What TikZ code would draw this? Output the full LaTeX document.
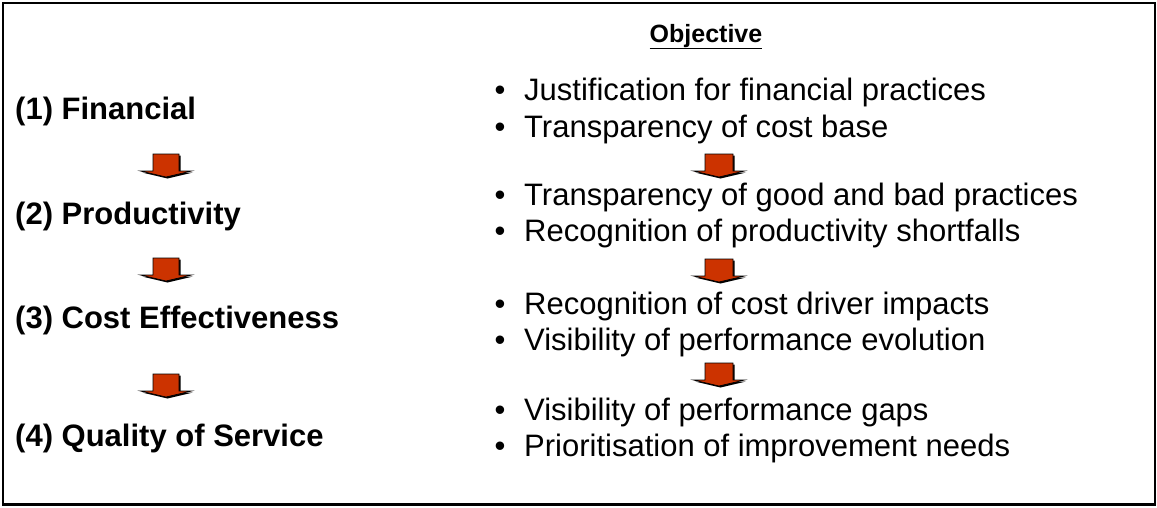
\documentclass[tikz,border=0pt]{standalone}
\usepackage{fontspec}
\setmainfont{Liberation Sans}
\definecolor{arrred}{RGB}{204,51,0}
\newcommand\dnarrow[4]{% center x, top y, body half width, name
  \path[fill=black] ({#1-#3+1.5},{#2+1.5}) -- ({#1+#3+1.5},{#2+1.5}) -- ({#1+#3+1.5},{#2+18.5}) -- ({#1+27},{#2+18.5}) -- ({#1+1.5},{#2+24.5}) -- ({#1-24},{#2+18.5}) -- ({#1-#3+1.5},{#2+18.5}) -- cycle;
  \path[blockarrow] ({#1-#3},#2) coordinate (#4) -- ({#1+#3},#2) -- ({#1+#3},{#2+17}) -- ({#1+25.5},{#2+17}) -- (#1,{#2+23}) -- ({#1-25.5},{#2+17}) -- ({#1-#3},{#2+17}) -- cycle;
}
\tikzset{
  blockarrow/.style={fill=arrred, draw=black, line width=0.7pt, line join=miter},
  lefttext/.style={anchor=base west, inner sep=0pt, font=\bfseries\fontsize{31}{36}\selectfont},
  righttext/.style={anchor=base west, inner sep=0pt, font=\fontsize{31}{36}\selectfont},
  bulletmark/.style={anchor=base, inner sep=0pt, font=\fontsize{31}{36}\selectfont},
  frame/.style={draw=black, line width=2.5pt}
}
\begin{document}
\begin{tikzpicture}[x=1pt,y=-1pt]
\useasboundingbox (0,0) rectangle (1157,507);
\draw[frame] (3,3) rectangle (1155,504.5);

% heading
\node[anchor=base, inner sep=0pt, font=\bfseries\fontsize{25}{30}\selectfont] (obj) at (706,42) {\underline{Objective}};

% left column
\node[lefttext] (l1) at (15,119.3) {(1) Financial};
\node[lefttext] (l2) at (15,224.3) {(2) Productivity};
\node[lefttext] (l3) at (15,328) {(3) Cost Effectiveness};
\node[lefttext] (l4) at (15,446) {(4) Quality of Service};

\dnarrow{166}{154}{13}{la1}
\dnarrow{166}{258}{13}{la2}
\dnarrow{166}{374}{13}{la3}

% right column
\foreach \y/\t/\n in {
  100.7/Justification for financial practices/r1,
  137/Transparency of cost base/r2,
  205.7/Transparency of good and bad practices/r3,
  241.7/Recognition of productivity shortfalls/r4,
  314/Recognition of cost driver impacts/r5,
  350.7/Visibility of performance evolution/r6,
  420/Visibility of performance gaps/r7,
  456/Prioritisation of improvement needs/r8}{
  \node[bulletmark] (b\n) at (500,\y) {•};
  \node[righttext] (\n) at (524,\y) {\t};
}

\dnarrow{719}{154}{14}{ra1}
\dnarrow{719}{259}{14}{ra2}
\dnarrow{719}{363}{14}{ra3}
\end{tikzpicture}
\end{document}
